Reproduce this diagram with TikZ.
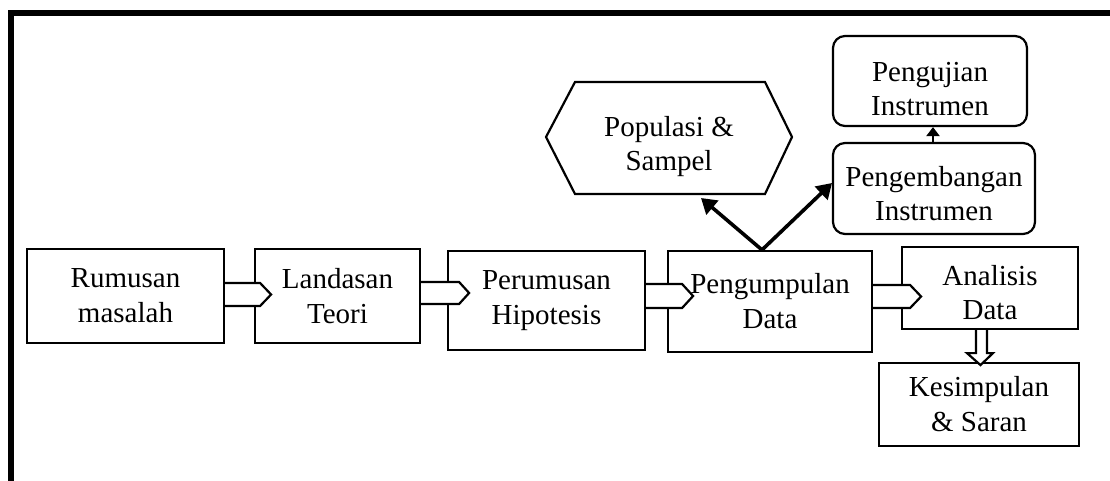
\documentclass[tikz,border=0pt]{standalone}
\usepackage{fontspec}
\setmainfont{Liberation Serif}
\usetikzlibrary{arrows.meta,calc}
\begin{document}
\begin{tikzpicture}[x=1pt,y=-1pt,
  box/.style={draw, line width=2.2pt, inner sep=0pt, align=center, font=\fontsize{29}{35}\selectfont},
  rbox/.style={box, rounded corners=12pt},
  lbl/.style={inner sep=0pt, align=center, font=\fontsize{29}{34}\selectfont},
  blk/.style={draw, line width=2.2pt, fill=white, line join=miter},
  thickarrow/.style={line width=3.6pt, -{Triangle[length=15pt,width=18pt]}},
  thinarrow/.style={line width=2.2pt, -{Triangle[length=9pt,width=13pt]}}
]
\useasboundingbox (0,0) rectangle (1110,481);
% frame
\draw[line width=6pt, line join=miter] (11,481) -- (11,13) -- (1110,13);

% main boxes
\node[box, minimum width=197pt, minimum height=94pt] (rm) at (125.5,296) {Rumusan\\masalah};
\node[box, minimum width=165pt, minimum height=94pt] (lt) at (337.5,296) {Landasan\\Teori};
\node[box, minimum width=197pt, minimum height=99pt] (ph) at (546.5,300.5) {Perumusan\\Hipotesis};
\node[box, minimum width=204pt, minimum height=101pt] (pd) at (770,301.5) {Pengumpulan\\Data};
\node[box, minimum width=176pt, minimum height=82pt] (ad) at (990,288) {};
\node[lbl] (adt) at ($(ad.center)+(0,5)$) {Analisis\\Data};
\node[box, minimum width=200pt, minimum height=83pt] (ks) at (979,404.5) {Kesimpulan\\\& Saran};

% upper boxes
\node[rbox, minimum width=194pt, minimum height=90pt] (pi) at (930,81) {};
\node[lbl] (pit) at ($(pi.center)+(0,8)$) {Pengujian\\Instrumen};
\node[rbox, minimum width=202pt, minimum height=91pt] (pg) at (934,188.5) {};
\node[lbl] (pgt) at ($(pg.center)+(0,5)$) {Pengembangan\\Instrumen};

% hexagon
\node[lbl] (ps) at (669,147) {Populasi \&\\Sampel};
\draw[line width=2.2pt, line join=miter] ($(ps.center)+(-123,-10)$) -- ++(29,-55) -- ++(190,0) -- ++(27,55) -- ++(-27,57) -- ++(-190,0) -- cycle;

% block arrows
\draw[blk] ($(rm.east)+(0,-13)$) -- ++(35,0) -- ++(11,11.5) -- ++(-11,11.5) -- ++(-35,0);
\draw[blk] ($(lt.east)+(0,-14)$) -- ++(38,0) -- ++(10,11) -- ++(-10,11) -- ++(-38,0);
\draw[blk] ($(ph.east)+(0,-16.5)$) -- ++(36,0) -- ++(11,12) -- ++(-11,12) -- ++(-36,0);
\draw[blk] ($(pd.east)+(0,-16.5)$) -- ++(37,0) -- ++(11,11.5) -- ++(-11,11.5) -- ++(-37,0);
\draw[blk] ($(ad.south)+(-14,0)$) -- ++(0,23) -- ++(-9,0) -- ++(13.5,12) -- ++(12.5,-12) -- ++(-6,0) -- ++(0,-23);

% arrows from Pengumpulan Data
\coordinate (src) at ($(pd.north)+(-8,0)$);
\coordinate (t1) at (701,198);
\coordinate (t2) at (832,183);
\draw[thickarrow] (src) -- (t1);
\draw[thickarrow] (src) -- (t2);

% Pengembangan -> Pengujian
\draw[thinarrow] ($(pg.north)+(-1,0)$) -- ($(pi.south)+(3,0)$);
\end{tikzpicture}
\end{document}
